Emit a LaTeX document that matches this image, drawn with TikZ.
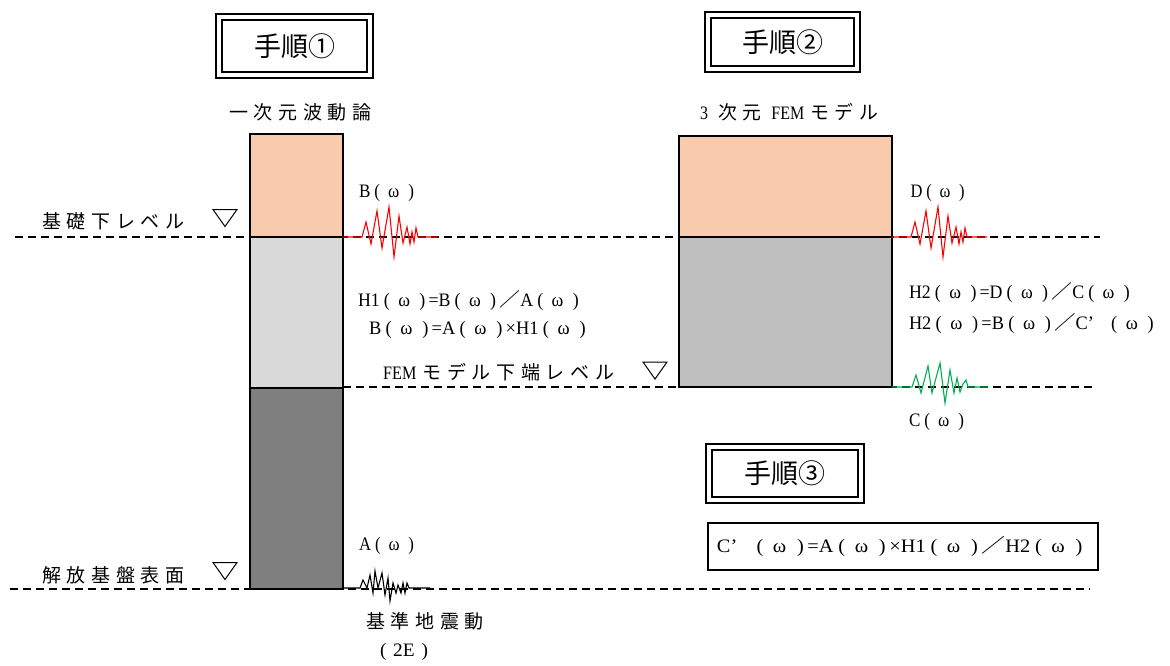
\documentclass[tikz,border=0pt]{standalone}
\usepackage{fontspec}
\usepackage{graphicx}
\setmainfont{Noto Sans CJK JP}
\newfontfamily\jp[LetterSpace=30]{Noto Sans CJK JP}
\newfontfamily\lat[FakeStretch=0.85]{Liberation Serif}
\newcommand\fw[2]{\resizebox{#1}{\height}{#2}}
\newcommand\om{\hspace{0.2em}(\hspace{0.4em}ω\hspace{0.45em})\hspace{0.15em}}
\newcommand\slsh{{\rmfamily ／}}
\definecolor{peach}{HTML}{F8CBAD}
\definecolor{lgray}{HTML}{D9D9D9}
\definecolor{mgray}{HTML}{BFBFBF}
\definecolor{dgray}{HTML}{7F7F7F}
\definecolor{wgreen}{HTML}{00B050}
\tikzset{
  lbl/.style={inner sep=0pt, font=\fontsize{19}{19}\selectfont\jp},
  eq/.style={inner sep=0pt, font=\fontsize{19}{19}\selectfont\lat},
  ttl/.style={draw, line width=2.2pt, double distance=3.5pt, inner sep=0pt,
    font=\fontsize{27}{27}\selectfont},
  col/.style={draw, line width=1.5pt},
  lev/.style={dash pattern=on 8pt off 5pt, line width=1.5pt},
  tri/.pic={\draw[line width=1pt, line join=miter] (-12,-9) -- (12,-9) -- (0,8) -- cycle;},
  redwave/.pic={\draw[line width=1.1pt] (0,0) -- (19,0) -- (23,-15) -- (28,7) -- (34,-26) -- (39,11) -- (46,-30) -- (51,20) -- (56,-21) -- (60,6) -- (64,-10) -- (67,7) -- (69,-5) -- (71,5) -- (73,-9) -- (75,0) -- (95,0);},
  greenwave/.pic={\draw[line width=1.1pt] (0,0) -- (20,0) -- (24,-12) -- (29,6) -- (36,-21) -- (40,6) -- (48,-24) -- (53,16) -- (58,-17) -- (62,6) -- (65,-9) -- (68,5) -- (71,-3) -- (74,-7) -- (76,0) -- (96,0);},
  blackwave/.pic={\draw[line width=1.1pt] (0,0) -- (17,0) -- (20,-8) -- (24,0) -- (27,-13) -- (30,5) -- (32,-17) -- (35,0) -- (39,-15) -- (42,7) -- (45,-10) -- (47,13) -- (50,-5) -- (53,5) -- (55,-3) -- (58,5) -- (60,-5) -- (62,5) -- (64,-5) -- (66,0) -- (87,0);}
}
\begin{document}
\begin{tikzpicture}[x=1pt,y=-1pt]
\useasboundingbox (0,0) rectangle (1170,665);

% level lines
\coordinate (l1a) at (15,237);   \coordinate (l1b) at (1100,237);
\coordinate (l2a) at (343,387);  \coordinate (l2b) at (1095,387);
\coordinate (l3a) at (10,589);   \coordinate (l3b) at (1090,589);
\draw[lev] (l1a) -- (l1b);
\draw[lev] (l2a) -- (l2b);
\draw[lev] (l3a) -- (l3b);

% column 1 (1D wave theory)
\draw[col, fill=peach] (250,134) rectangle (343,237);
\draw[col, fill=lgray] (250,237) rectangle (343,388);
\draw[col, fill=dgray] (250,388) rectangle (343,589);

% column 2 (3D FEM)
\draw[col, fill=peach] (679,136) rectangle (892,237);
\draw[col, fill=mgray] (679,237) rectangle (892,387);

% waves
\pic[red] at (343,237) {redwave};
\pic[red] at (892,237) {redwave};
\pic[wgreen] at (892,387) {greenwave};
\pic[black] at (343,588) {blackwave};

% triangles
\pic at (225,218.5) {tri};
\pic at (225,571.5) {tri};
\pic at (655,371) {tri};

% title boxes
\node[ttl, minimum width=151pt, minimum height=58pt] (t1) at (294.5,46) {手順①};
\node[ttl, minimum width=149pt, minimum height=54pt] (t2) at (782.5,42) {手順②};
\node[ttl, minimum width=152pt, minimum height=53pt] (t3) at (785,473.5) {手順③};

% labels
\node[lbl, anchor=west] (n1d) at (229,112) {一次元波動論};
\node[lbl, anchor=west] (n3d) at (700,112) {\fw{178pt}{{\lat 3}\hspace{10pt}次元\hspace{10pt}{\lat FEM}\hspace{6pt}モデル}};
\node[lbl, anchor=west] (kiso) at (42,221.7) {基礎下レベル};
\node[lbl, anchor=west] (kaiho) at (42,575) {解放基盤表面};
\node[lbl, anchor=west] (femlev) at (383,372) {{\lat FEM}\hspace{6pt}モデル下端レベル};
\node[lbl, anchor=west] (kijun) at (366,621) {基準地震動};
\node[eq] (e2e) at (404,652) {\fw{48pt}{(\hspace{0.3em}2E\hspace{0.3em})}};

\node[eq] (bw) at (388,193) {\fw{58pt}{B\om}};
\node[eq] (dw) at (939,193) {\fw{57pt}{D\om}};
\node[eq] (cw) at (938,422) {\fw{58pt}{C\om}};
\node[eq] (aw) at (388,546) {\fw{58pt}{A\om}};

\node[eq] (h1a) at (470,300.5) {\fw{224pt}{H1\om=B\om\slsh A\om}};
\node[eq] (h1b) at (479,330) {\fw{220pt}{B\om=A\om×H1\om}};
\node[eq] (h2a) at (1021,292) {\fw{224pt}{H2\om=D\om\slsh C\om}};
\node[eq] (h2b) at (1033,323.5) {\fw{248pt}{H2\om=B\om\slsh C’\hspace{0.6em}\om}};

% formula box
\node[draw, line width=1.5pt, minimum width=390pt, minimum height=47pt, inner sep=0pt] (fbox) at (903,546.5) {};
\node[eq] (f3) at (901.5,546) {\fw{369pt}{C’\hspace{0.6em}\om=A\om×H1\om\slsh H2\om}};
\end{tikzpicture}
\end{document}
